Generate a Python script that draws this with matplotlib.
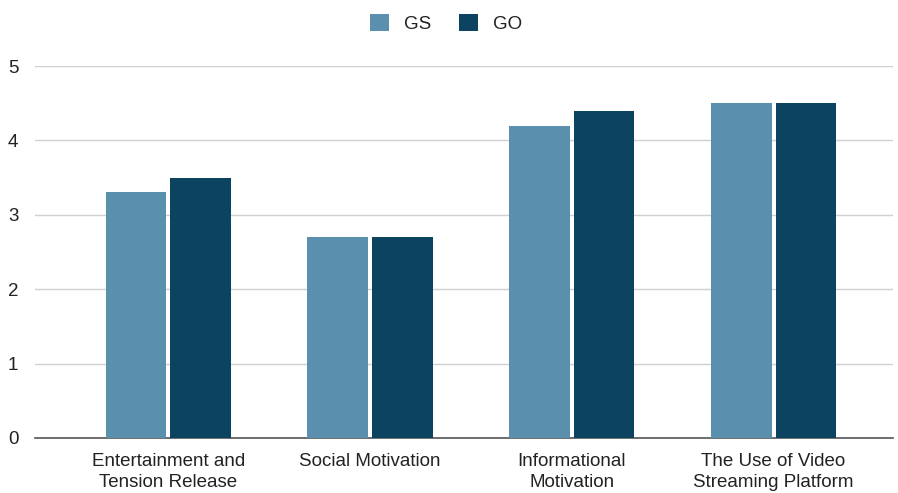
import numpy as np
import matplotlib.pyplot as plt

categories = ["Entertainment and\nTension Release", "Social Motivation",
              "Informational\nMotivation", "The Use of Video\nStreaming Platform"]
gs_values = [3.3, 2.7, 4.2, 4.5]
go_values = [3.5, 2.7, 4.4, 4.5]

plt.rcParams['font.family'] = ['Liberation Sans', 'DejaVu Sans']

fig = plt.figure(figsize=(8.98, 4.93), dpi=100)
ax = fig.add_axes([0.039, 0.1116, 0.955, 0.7545])

x = np.arange(len(categories))
w = 0.30
ax.bar(x - 0.16, gs_values, w, color='#5a8fae', label='GS', zorder=3)
ax.bar(x + 0.16, go_values, w, color='#0b4360', label='GO', zorder=3)

ax.set_xlim(-0.66, 3.59)
ax.set_ylim(0, 5)
ax.set_yticks(range(0, 6))
ax.yaxis.grid(True, color='#d0d0d0', linewidth=1, zorder=0)
for s in ['top', 'right', 'left']:
    ax.spines[s].set_visible(False)
ax.spines['bottom'].set_color('#555555')
ax.spines['bottom'].set_linewidth(1.2)
ax.tick_params(axis='both', length=0, labelsize=13.5, colors='#222222')
ax.tick_params(axis='y', pad=12)
ax.tick_params(axis='x', pad=11)
ax.set_xticks(x)
ax.set_xticklabels(categories, linespacing=1.3)

fig.legend(loc='upper center', bbox_to_anchor=(0.497, 1.005), ncol=2, frameon=False,
           fontsize=13.5, handlelength=1.0, handleheight=1.0, columnspacing=1.5,
           handletextpad=0.8, labelcolor='#222222')

fig.savefig('out.png', dpi=100, facecolor='white')
